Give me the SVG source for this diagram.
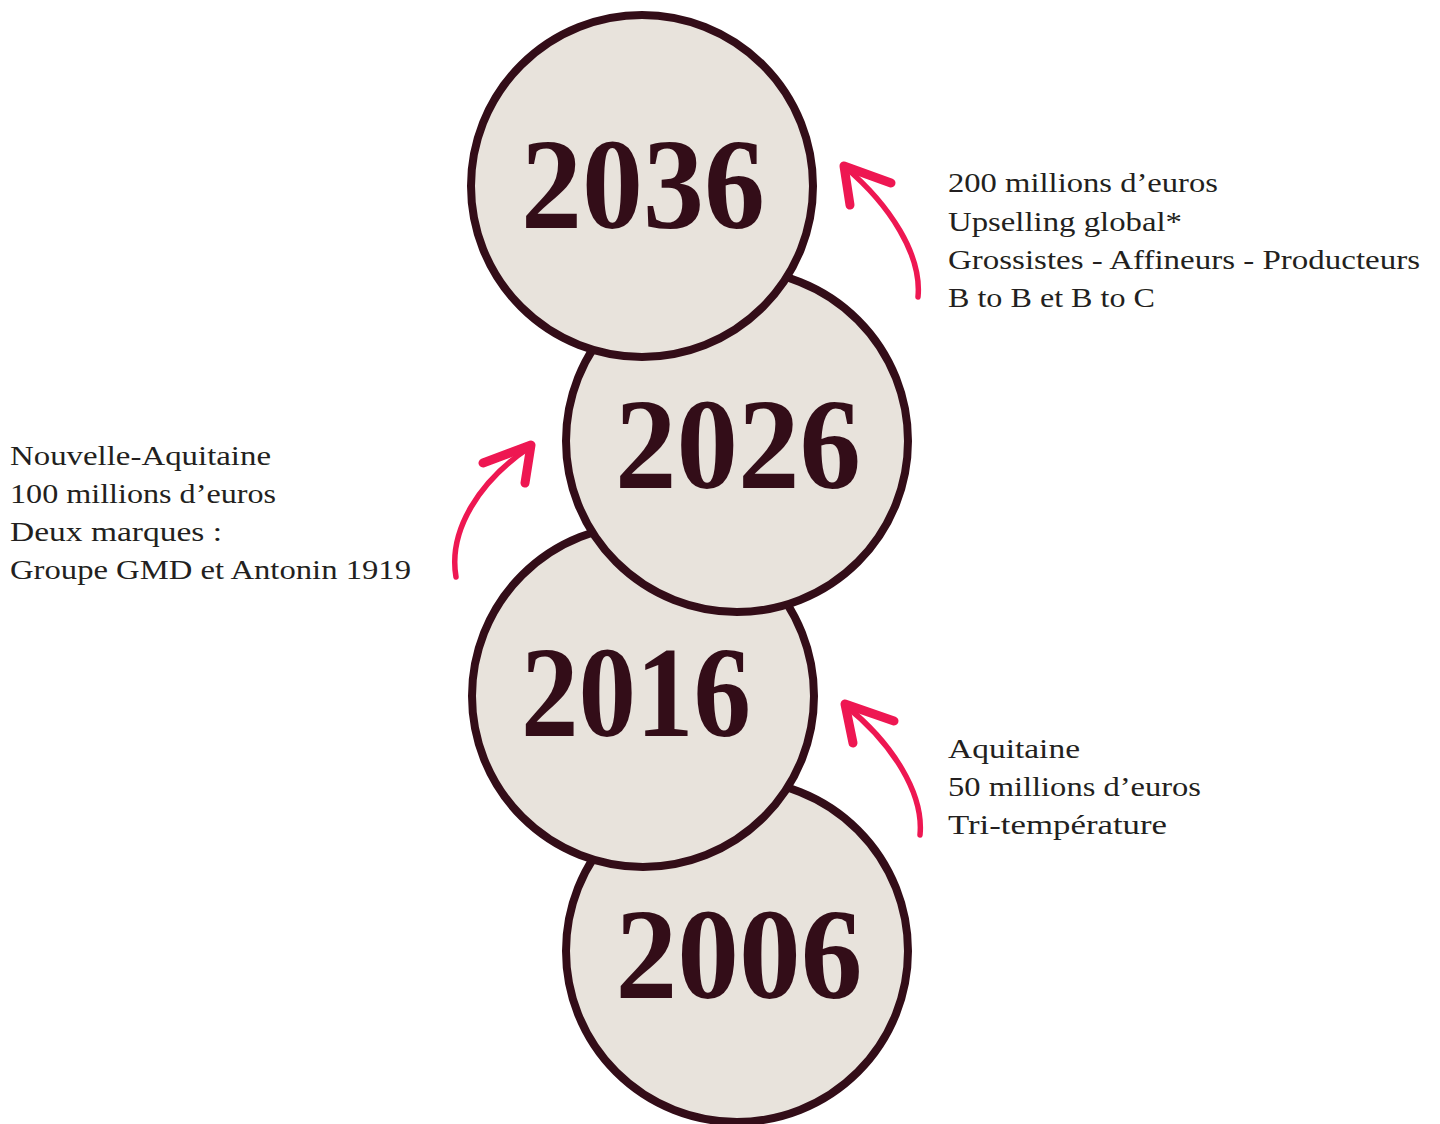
<svg xmlns="http://www.w3.org/2000/svg" width="1440" height="1124" viewBox="0 0 1440 1124">
<style>
.disc{fill:#e8e3dc;stroke:#330d18;stroke-width:8}
.year{font-family:"Liberation Serif",serif;font-weight:bold;font-size:130px;fill:#330d18;text-anchor:middle}
.lbl{font-family:"Liberation Serif",serif;font-size:27px;fill:#231f20}
.shaft{fill:none;stroke:#ee1752;stroke-width:5.5;stroke-linecap:round}
.head{fill:none;stroke:#ee1752;stroke-width:9;stroke-linecap:round;stroke-linejoin:round}
</style>
<rect width="1440" height="1124" fill="#ffffff"/>
<g id="node-2006">
<circle class="disc" cx="737" cy="951" r="171"/>
<text class="year" x="739" y="998" textLength="247" lengthAdjust="spacingAndGlyphs">2006</text>
</g>
<g id="node-2016">
<circle class="disc" cx="643" cy="696" r="171"/>
<text class="year" x="636" y="736" textLength="230" lengthAdjust="spacingAndGlyphs">2016</text>
</g>
<g id="node-2026">
<circle class="disc" cx="737" cy="441" r="171"/>
<text class="year" x="738" y="488" textLength="246" lengthAdjust="spacingAndGlyphs">2026</text>
</g>
<g id="node-2036">
<circle class="disc" cx="642" cy="186" r="171"/>
<text class="year" x="643" y="228" textLength="244" lengthAdjust="spacingAndGlyphs">2036</text>
</g>
<g id="connectors">
<path class="shaft" d="M920,835 C924,793 892,743 846,706"/>
<path class="head" d="M853,743 L845,704 L894,721"/>
<path class="shaft" d="M456,577 C448,530 480,480 530,447"/>
<path class="head" d="M483,463 L531,445 L525,483"/>
<path class="shaft" d="M918,297 C922,255 890,205 845,167"/>
<path class="head" d="M850,205 L844,166 L891,183"/>
</g>
<g id="label-2036">
<text class="lbl" x="948" y="192" textLength="270" lengthAdjust="spacingAndGlyphs">200 millions d’euros</text>
<text class="lbl" x="948" y="231" textLength="234" lengthAdjust="spacingAndGlyphs">Upselling global*</text>
<text class="lbl" x="948" y="269" textLength="472" lengthAdjust="spacingAndGlyphs">Grossistes - Affineurs - Producteurs</text>
<text class="lbl" x="948" y="307" textLength="207" lengthAdjust="spacingAndGlyphs">B to B et B to C</text>
</g>
<g id="label-2026">
<text class="lbl" x="10" y="465" textLength="261" lengthAdjust="spacingAndGlyphs">Nouvelle-Aquitaine</text>
<text class="lbl" x="10" y="503" textLength="266" lengthAdjust="spacingAndGlyphs">100 millions d’euros</text>
<text class="lbl" x="10" y="541" textLength="212" lengthAdjust="spacingAndGlyphs">Deux marques :</text>
<text class="lbl" x="10" y="579" textLength="401" lengthAdjust="spacingAndGlyphs">Groupe GMD et Antonin 1919</text>
</g>
<g id="label-2016">
<text class="lbl" x="948" y="758" textLength="132" lengthAdjust="spacingAndGlyphs">Aquitaine</text>
<text class="lbl" x="948" y="796" textLength="253" lengthAdjust="spacingAndGlyphs">50 millions d’euros</text>
<text class="lbl" x="948" y="834" textLength="219" lengthAdjust="spacingAndGlyphs">Tri-température</text>
</g>
</svg>
